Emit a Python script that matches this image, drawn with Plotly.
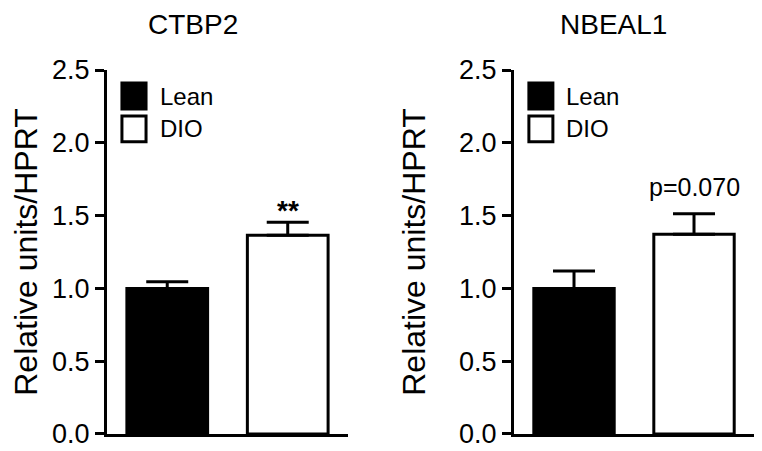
import plotly.graph_objects as go

genes = ["CTBP2", "NBEAL1"]
groups = ["Lean", "DIO"]
ctbp2_mean = [1.0, 1.365]
ctbp2_sem = [0.046, 0.09]
nbeal1_mean = [1.0, 1.372]
nbeal1_sem = [0.12, 0.141]
sig_labels = ["<b>**</b>", "p=0.070"]
y_ticks = [0.0, 0.5, 1.0, 1.5, 2.0, 2.5]
bar_colors = ["black", "white"]

FONT = "Arial, Liberation Sans, sans-serif"
means = [ctbp2_mean, nbeal1_mean]
sems = [ctbp2_sem, nbeal1_sem]

fig = go.Figure()
for i, g in enumerate(genes):
    xa = "x" if i == 0 else "x2"
    ya = "y" if i == 0 else "y2"
    fig.add_trace(go.Bar(
        x=groups, y=means[i], xaxis=xa, yaxis=ya, width=0.67,
        marker=dict(color=bar_colors, line=dict(color="black", width=3)),
        error_y=dict(type="data", array=sems[i], arrayminus=[0, 0], symmetric=False,
                     thickness=3, width=21, color="black"),
        showlegend=False, hoverinfo="skip"))

# page has an 8px body margin, so figure is 754x443 placed at (8,8)
xdoms = [[0.1313, 0.4509], [0.6711, 0.9894]]
ydom = [0.0384, 0.8600]
axis_common = dict(showline=True, linewidth=3, linecolor="black", showgrid=False,
                   zeroline=False, automargin=False)
for i in range(2):
    sfx = "" if i == 0 else "2"
    fig.update_layout(**{
        "xaxis" + sfx: dict(domain=xdoms[i], range=[-0.5, 1.5], showticklabels=False, ticks="",
                            anchor="y" + sfx, **axis_common),
        "yaxis" + sfx: dict(domain=ydom, range=[0, 2.5], tickvals=y_ticks, tickformat=".1f",
                            ticks="outside", ticklen=9, tickwidth=3, tickcolor="black",
                            tickfont=dict(size=27, color="black", family=FONT),
                            title=dict(text="Relative units/HPRT", standoff=24,
                                       font=dict(size=32, color="black", family=FONT)),
                            anchor="x" + sfx, **axis_common),
    })

annots = []
title_x = [0.2454, 0.8031]
for i, g in enumerate(genes):
    annots.append(dict(text=g, x=title_x[i], y=1, xref="paper", yref="paper",
                       xanchor="center", yanchor="top", showarrow=False, borderpad=0,
                       font=dict(size=28, color="black", family=FONT)))
    sfx = "" if i == 0 else "2"
    top = means[i][1] + sems[i][1]
    annots.append(dict(text=sig_labels[i], x=groups[1], y=top, xref="x" + sfx, yref="y" + sfx,
                       xanchor="center", yanchor="bottom", showarrow=False,
                       yshift=-6 if i == 0 else 11,
                       font=dict(size=25 if i == 1 else 28, color="black", family=FONT)))
    # legend
    for j, grp in enumerate(groups):
        y0 = [0.893, 0.8026][j]
        y1 = [0.964, 0.874][j]
        fig.add_shape(type="rect", xref=f"x{sfx} domain", yref=f"y{sfx} domain",
                      x0=0.062, x1=0.162, y0=y0, y1=y1,
                      fillcolor=bar_colors[j], line=dict(color="black", width=3))
        annots.append(dict(text=grp, x=0.21, y=(y0 + y1) / 2, xref=f"x{sfx} domain",
                           yref=f"y{sfx} domain", xanchor="left", yanchor="middle",
                           showarrow=False, font=dict(size=24, color="black", family=FONT)))

fig.update_layout(annotations=annots, width=754, height=443,
                  margin=dict(l=0, r=0, t=0, b=0),
                  paper_bgcolor="white", plot_bgcolor="white", font=dict(family=FONT))
fig.write_html("out.html")
